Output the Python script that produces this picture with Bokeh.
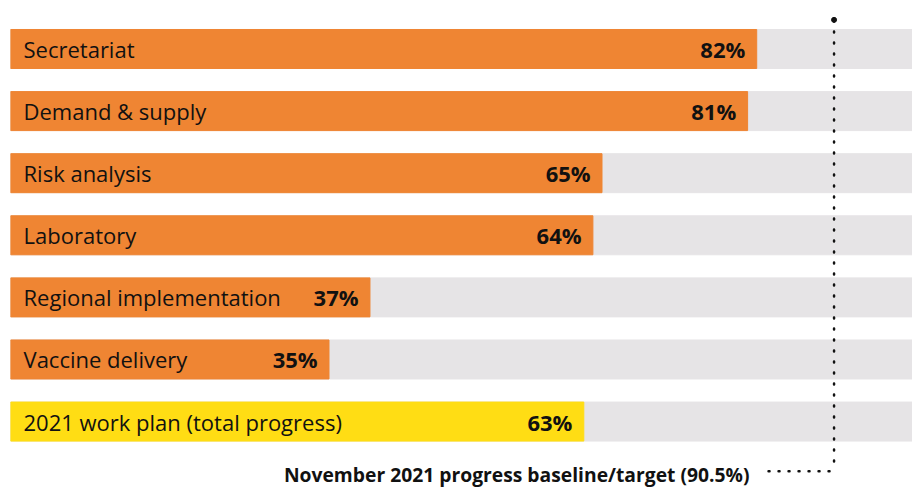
from bokeh.plotting import figure
from bokeh.models import ColumnDataSource, Range1d
from bokeh.core.properties import value
from bokeh.embed import file_html
from bokeh.resources import INLINE

categories = ["Secretariat", "Demand & supply", "Risk analysis", "Laboratory",
              "Regional implementation", "Vaccine delivery", "2021 work plan (total progress)"]
progress = [82, 81, 65, 64, 37, 35, 63]
# drawn bar length (Regional bar is drawn longer so its label fits)
bar_length = [82, 81, 65, 64, 39.5, 35, 63]
target = 90.5
target_label = "November 2021 progress baseline/target (90.5%)"

ORANGE = "#EF8533"
YELLOW = "#FFDD14"
GREY = "#E6E4E6"
INK = "#111111"

colors = [ORANGE] * (len(categories) - 1) + [YELLOW]
rows = list(range(len(categories)))
src = ColumnDataSource(dict(
    y=rows, cat=categories, bar=bar_length,
    lab=[f"{v}%" for v in progress],
    pctx=[b - 1.25 for b in bar_length],
    color=colors,
))

p = figure(width=912, height=490, x_range=Range1d(0, 99.12), y_range=Range1d(7.11, -0.781),
           output_backend="svg", toolbar_location=None,
           x_axis_type=None, y_axis_type=None,
           min_border_left=10, min_border_right=0, min_border_top=0, min_border_bottom=0)
p.grid.visible = False
p.outline_line_color = None
p.background_fill_color = "white"

p.hbar(y="y", left=0, right=100, height=0.628, color=GREY, source=src)
p.hbar(y="y", left=0, right="bar", height=0.628, fill_color="color", line_color="color", source=src)

p.text(x=1.43, y="y", text="cat", source=src, text_font=value("Open Sans"),
       text_font_size="22px", text_baseline="middle", text_color=INK)
p.text(x="pctx", y="y", text="lab", source=src, text_font=value("Open Sans"),
       text_font_size="22px", text_font_style="bold", text_align="right",
       text_baseline="middle", text_color=INK)

# target marker line
line_top = -0.459
line_bottom = len(categories) - 0.2
label_y = len(categories) - 0.15
p.line(x=[target, target], y=[line_top, line_bottom], line_dash="1 10", line_width=2.5,
       line_cap="round", line_color=INK)
p.scatter(x=[target], y=[line_top - 0.01], size=5, color=INK)
p.line(x=[target - 7.2, target], y=[line_bottom, line_bottom], line_dash="1 9", line_width=2.5,
       line_cap="round", line_color=INK)
p.text(x=[target - 9.3], y=[label_y], text=[target_label], text_font=value("Open Sans"),
       text_font_size="19.3px", text_font_style="bold", text_align="right",
       text_baseline="alphabetic", text_color=INK)

open("out.html", "w").write(file_html(p, INLINE))
